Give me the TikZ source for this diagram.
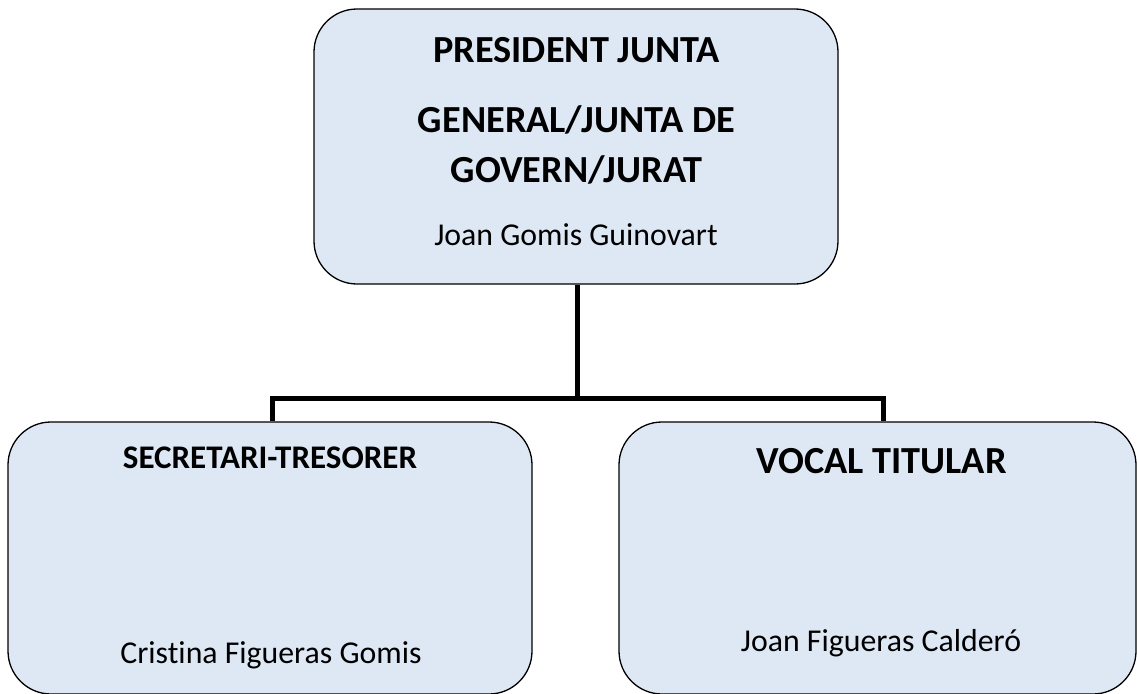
\documentclass[tikz,border=0pt]{standalone}
\usepackage{fontspec}
\setmainfont{Carlito}[Ligatures={NoCommon}]
\usepackage{xcolor}
\usepackage{tikz}
\definecolor{boxblue}{HTML}{DEE8F5}

\begin{document}
\begin{tikzpicture}[x=1pt, y=-1pt,
    box/.style={draw, rounded corners=43pt, fill=boxblue, line width=1.3pt, inner sep=0pt},
    headtext/.style={anchor=base, font=\bfseries\fontsize{38.3}{44}\selectfont},
    persontext/.style={anchor=base, font=\fontsize{31.8}{38}\selectfont},
    line/.style={line width=5pt}
]

\useasboundingbox (0,0) rectangle (1137,693);

\node[box, minimum width=524pt, minimum height=275pt] (pres) at (576,146.5) {};
\node[box, minimum width=524pt, minimum height=272pt] (secr) at (270,558) {};
\node[box, minimum width=517pt, minimum height=272pt] (vocal) at (877.5,558) {};

% top box
\node[headtext] (pres1) at (576.5,63) {PRESIDENT JUNTA};
\node[headtext] (pres2) at (576.5,132) {GENERAL/JUNTA DE};
\node[headtext] (pres3) at (576.5,182) {GOVERN/JURAT};
\node[persontext] (presname) at (576,245) {Joan Gomis Guinovart};

% bottom boxes
\node[headtext, font=\bfseries\fontsize{33}{38}\selectfont] (secr1) at (270,468) {SECRETARI-TRESORER};
\node[persontext] (secrname) at (271,663) {Cristina Figueras Gomis};
\node[headtext] (vocal1) at (881.5,473) {VOCAL TITULAR};
\node[persontext] (vocalname) at (881,651) {Joan Figueras Calderó};

% lines
\coordinate (bus) at (577,398);
\draw[line] ([xshift=1pt]pres.south) -- (bus);
\draw[line] ([xshift=2pt]secr.north) |- (bus) -| ([xshift=5.5pt]vocal.north);

\end{tikzpicture}
\end{document}
